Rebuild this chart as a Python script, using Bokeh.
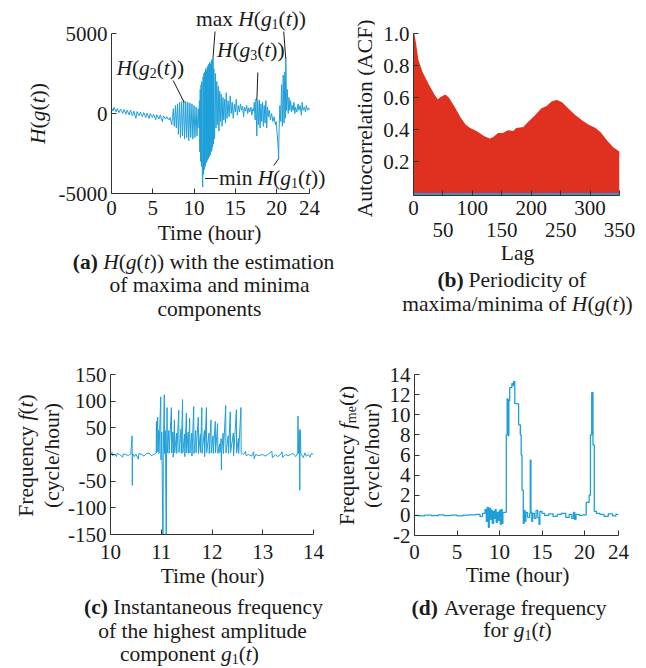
import math
from bokeh.plotting import figure
from bokeh.models import Label, FixedTicker, LinearAxis, Range1d, Arrow
from bokeh.layouts import column, row
from bokeh.embed import file_html
from bokeh.resources import INLINE

FONT = "Liberation Serif"
TXT = "#1a1a1a"
AXC = "#333333"
BLUE = "#1e9fd9"
RED = "#e03020"
BASE_BLUE = "#3d8fc6"
FS = 21.5

# ---------------- data ----------------
# (a) H(g(t)) over 24 hours
a_time = [0.0, 0.2, 0.3, 0.55, 0.7, 0.9, 1.1, 1.35, 1.5, 1.75,
          1.9, 2.15, 2.3, 2.55, 2.7, 2.95, 3.1, 3.35, 3.5, 3.75,
          3.9, 4.15, 4.3, 4.55, 4.7, 4.95, 5.1, 5.35, 5.5, 5.75,
          5.9, 6.15, 6.3, 6.55, 6.7, 6.95, 7.1, 7.3, 7.4,
          7.5, 7.6, 7.75, 7.85, 8.0, 8.1, 8.25, 8.35, 8.5, 8.6,
          8.75, 8.85, 9.0, 9.1, 9.25, 9.35, 9.5, 9.6, 9.75, 9.85,
          10.0, 10.1, 10.25, 10.35, 10.5, 10.6,
          10.65, 10.7, 10.75, 10.8, 10.85, 10.9, 10.95, 11.0, 11.05, 11.1,
          11.15, 11.2, 11.25, 11.3, 11.35, 11.4, 11.45, 11.5, 11.55, 11.6,
          11.65, 11.7, 11.75, 11.8, 11.85, 11.9, 11.95, 12.0, 12.05, 12.1,
          12.15, 12.2, 12.25, 12.3, 12.35, 12.4, 12.45,
          12.5, 12.58, 12.66, 12.75, 12.84, 12.93, 13.02, 13.11, 13.2, 13.3,
          13.4, 13.5, 13.6, 13.7, 13.8, 13.9, 14.0, 14.12, 14.25, 14.38,
          14.5, 14.62, 14.75, 14.88, 15.0, 15.12, 15.25, 15.38, 15.5, 15.62,
          15.75, 15.88, 16.0, 16.12, 16.25, 16.38, 16.5, 16.62, 16.75, 16.88,
          17.0, 17.12, 17.22,
          17.3, 17.4, 17.5, 17.6, 17.7, 17.8, 17.9, 18.0, 18.1, 18.2,
          18.3, 18.4, 18.5, 18.6, 18.7, 18.8, 18.9,
          19.0, 19.1, 19.25, 19.4, 19.55, 19.7, 19.85, 19.95, 20.05, 20.15,
          20.25, 20.3,
          20.4, 20.5, 20.6, 20.7, 20.8, 20.9, 21.0, 21.05, 21.12, 21.2,
          21.3, 21.4, 21.5,
          21.6, 21.7, 21.8, 21.9, 22.0, 22.1, 22.2, 22.3, 22.45, 22.6,
          22.7, 22.85, 23.0, 23.1, 23.2, 23.35, 23.5, 23.6, 23.75, 23.9,
          24.0]
a_value = [350, 150, 380, 100, 300, 50, 280, 0, 250, -50,
           220, -100, 200, -150, 150, -300, 120, -150, 80, -200,
           60, -250, 20, -300, 0, -250, -50, -400, -80, -350,
           -100, -500, -150, -350, -200, -400, -250, -700, -200,
           300, -800, 500, -900, 600, -1300, 700, -1500, 750, -1400,
           800, -1600, 750, -1500, 700, -1700, 650, -1500, 600, -1600,
           500, -1500, 400, -1400, 300, -900,
           800, -2400, 1500, -3000, 1800, -3300, 2000, -3900, -4600, 2300,
           -3800, 2500, -3500, 2600, -3300, 2800, -3100, 2700, -3000, 2900,
           -2900, 3000, -2800, 3100, -2700, 3200, -2600, 3100, -2400, 3300,
           -2300, 3400, -2100, 3500, -1900, 2800, -1600,
           -1500, 2500, -900, 2000, -700, 1700, -1100, 1400, -500, 1200,
           -800, 1000, -400, 900, -600, 1300, -300, 800, -200, 1100,
           0, 700, -300, 600, 100, 900, -100, 500, 100, 600,
           200, 450, -200, 400, 150, 500, 0, 350, 100, 400,
           -100, 300, 150,
           700, -400, 900, -1400, 800, -700, 850, -900, 600, -500,
           700, -800, 500, -600, 800, -900, 400,
           -200, 200, -400, 0, -500, -200, -700, -500, -1200, -1800,
           -2800, -1000,
           500, -500, 1800, -800, 2400, -600, 2600, -300, 3500, 200,
           1500, 0, 1000,
           200, 800, 100, 500, 200, 700, 0, 400, 100, 600,
           200, 500, -100, 700, 200, 400, 100, 500, 200, 350,
           250]
a_xticks = [0, 5, 10, 15, 20, 24]
a_xlabels = ["0", "5", "10", "15", "20", "24"]
a_yticks = [-5000, 0, 5000]
a_ylabels = ["-5000", "0", "5000"]

# (b) autocorrelation of maxima/minima
b_lag = [0, 3, 7, 14, 25, 34, 41, 46, 54, 59,
         68, 79, 88, 96, 107, 119, 130, 136, 144, 153,
         161, 170, 175, 187, 195, 207, 218, 226, 235, 243,
         252, 263, 274, 286, 297, 308, 317, 328, 338, 350]
b_acf = [1.0, 0.94, 0.835, 0.76, 0.68, 0.62, 0.583, 0.598, 0.614, 0.598,
         0.546, 0.474, 0.427, 0.406, 0.386, 0.357, 0.340, 0.35, 0.375, 0.377,
         0.392, 0.388, 0.406, 0.412, 0.443, 0.485, 0.53, 0.542, 0.571, 0.581,
         0.567, 0.526, 0.489, 0.454, 0.427, 0.408, 0.381, 0.330, 0.289, 0.258]
b_baseline = [0.0, 0.0]
b_xticks = [0, 50, 100, 150, 200, 250, 300, 350]
b_xlabels_row1 = ["0", "", "100", "", "200", "", "300", ""]
b_xlabels_row2 = ["", "50", "", "150", "", "250", "", "350"]
b_yticks = [0.2, 0.4, 0.6, 0.8, 1.0]
b_ylabels = ["0.2", "0.4", "0.6", "0.8", "1.0"]

# (c) instantaneous frequency of g1(t)
c_time = [10.00, 10.03, 10.04, 10.08, 10.12, 10.13, 10.18, 10.24, 10.25, 10.30,
          10.35, 10.40, 10.425, 10.43, 10.435, 10.47, 10.50, 10.55, 10.56, 10.62,
          10.66, 10.70, 10.76, 10.80, 10.86, 10.90, 10.905, 10.91, 10.93, 10.935,
          10.95, 10.955, 10.99, 10.995, 11.01, 11.015, 11.036, 11.04, 11.06, 11.065,
          11.08, 11.085, 11.10, 11.105, 11.115, 11.12, 11.15, 11.155, 11.20, 11.205,
          11.23, 11.235, 11.26, 11.265, 11.30, 11.305, 11.345, 11.35, 11.39, 11.395,
          11.42, 11.425, 11.46, 11.465, 11.495, 11.50, 11.53, 11.535, 11.56, 11.565,
          11.60, 11.605, 11.64, 11.645, 11.68, 11.685, 11.73, 11.735, 11.77, 11.775,
          11.80, 11.805, 11.85, 11.855, 11.89, 11.895, 11.94, 11.945, 11.98, 11.985,
          12.02, 12.025, 12.065, 12.07, 12.11, 12.115, 12.15, 12.155, 12.18, 12.185,
          12.19, 12.22, 12.225, 12.27, 12.275, 12.32, 12.325, 12.36, 12.365, 12.42,
          12.425, 12.48, 12.485, 12.52, 12.525, 12.57, 12.575, 12.62, 12.66, 12.67,
          12.72, 12.78, 12.82, 12.83, 12.86, 12.92, 13.00, 13.05, 13.10, 13.18,
          13.19, 13.25, 13.30, 13.35, 13.38, 13.39, 13.45, 13.50, 13.55, 13.60,
          13.65, 13.69, 13.695, 13.70, 13.72, 13.73, 13.735, 13.745, 13.75, 13.80,
          13.83, 13.86, 13.90, 13.93, 13.96, 14.00]
c_freq = [0, 4, -2, 0, -4, 2, 0, -5, 1, 0,
          -2, 1, 35, -58, 2, -4, 1, -9, 2, 0,
          -3, 1, 3, -2, 0, 3, 62, 3, 70, 5,
          45, 2, 108, -10, 42, 3, -200, 5, 112, 2,
          45, -8, -200, 4, 88, 3, 45, 2, 88, 3,
          42, -5, 65, 3, 40, 2, 83, 4, 48, 2,
          103, 3, 38, -4, 78, 3, 42, 2, 68, 3,
          40, -3, 90, 2, 45, 3, 70, 2, 38, 4,
          88, 2, 45, -4, 88, 3, 40, 2, 65, 3,
          35, 2, 62, 3, 58, 2, 20, 3, 30, -29,
          3, 40, 2, 92, 3, 35, 2, 80, 3, 40,
          -3, 84, 3, 30, 2, 88, 3, 0, 6, -2,
          0, -3, 5, -8, 0, -2, 0, -3, 0, 6,
          -6, 0, -4, 0, 5, -5, 0, -2, 0, 2,
          -4, 3, 72, 2, 45, -67, 47, 35, 2, -6,
          3, -3, 0, -5, 2, 0]
c_xticks = [10, 11, 12, 13, 14]
c_xlabels = ["10", "11", "12", "13", "14"]
c_yticks = [-150, -100, -50, 0, 50, 100, 150]
c_ylabels = ["-150", "-100", "-50", "0", "50", "100", "150"]

# (d) average frequency of g1(t)
d_time = [0.0, 0.5, 1.2, 2.0, 2.8, 3.5, 4.3, 5.0, 5.7, 6.5,
          7.2, 7.7, 8.0, 8.3, 8.45, 8.55, 8.7, 8.8, 8.95, 9.05,
          9.15, 9.3, 9.4, 9.5, 9.6, 9.75, 9.9, 10.0, 10.1, 10.2,
          10.3, 10.4, 10.8, 10.9, 10.95, 11.0, 11.05, 11.1, 11.2, 11.45,
          11.6, 11.65, 11.8, 12.25, 12.45, 12.55, 12.65, 12.8, 12.9, 13.0,
          13.1, 13.3, 13.55, 13.62, 13.7, 13.8, 13.9, 14.1, 14.3, 14.5,
          14.65, 14.75, 15.0, 15.3, 15.8, 16.3, 16.8, 17.3, 17.8, 18.2,
          18.5, 18.7, 18.85, 19.0, 19.4, 19.8, 20.2, 20.55, 20.7, 20.85,
          21.0, 21.15, 21.4, 21.8, 22.3, 22.8, 23.3, 23.7, 24.0]
d_freq = [0.0, -0.05, 0.02, -0.03, 0.05, -0.02, 0.03, -0.05, 0.02, 0.05,
          0.1, -0.1, 0.2, 0.6, -0.6, 0.8, -1.2, 0.7, -0.4, 0.5,
          -0.8, 0.4, -0.3, 0.6, -0.7, 0.3, -0.5, 0.5, -0.9, 0.6,
          -0.8, 0.3, 8.0, 11.6, 8.1, 11.5, 7.9, 11.4, 12.7, 13.1,
          12.9, 13.3, 11.1, 9.0, 8.0, 6.0, 2.5, -0.8, 0.5, -0.6,
          0.3, -0.2, 0.2, 5.5, 0.3, -0.6, 0.2, -0.3, 0.5, -0.2,
          -0.9, 0.4, 0.2, 0.0, 0.15, -0.1, 0.1, 0.2, -0.2, 0.1,
          -0.3, 0.3, -0.4, 0.1, 0.0, 0.05, 1.3, 2.0, 8.0, 12.2,
          7.0, 0.4, 0.2, 0.1, -0.1, 0.15, -0.05, 0.1, 0.05]
d_xticks = [0, 5, 10, 15, 20, 24]
d_xlabels = ["0", "5", "10", "15", "20", "24"]
d_yticks = [-2, 0, 2, 4, 6, 8, 10, 12, 14]
d_ylabels = ["-2", "0", "2", "4", "6", "8", "10", "12", "14"]

assert len(a_time) == len(a_value)
assert len(b_lag) == len(b_acf)
assert len(c_time) == len(c_freq)
assert len(d_time) == len(d_freq)

# ---------------- text metrics (Times-compatible) ----------------
REG = {ch: 0.5 for ch in "0123456789"}
REG.update({' ': .25, '(': .333, ')': .333, '-': .333, '.': .25, '/': .278,
            'A': .722, 'C': .667, 'F': .556, 'H': .722, 'I': .333, 'L': .611, 'T': .611,
            'a': .444, 'b': .5, 'c': .444, 'd': .5, 'e': .444, 'f': .333, 'g': .5,
            'h': .5, 'i': .278, 'j': .278, 'k': .5, 'l': .278, 'm': .778, 'n': .5,
            'o': .5, 'p': .5, 'q': .5, 'r': .333, 's': .389, 't': .278, 'u': .5,
            'v': .5, 'w': .722, 'x': .5, 'y': .5, 'z': .444})
ITA = dict(REG)
ITA.update({'f': .278, 'm': .722})
BOLD = dict(REG)
BOLD.update({'a': .5, 'b': .556, 'd': .556})
MID = 0.34  # distance from the middle of a line of text down to its baseline, in em


def tw(s, style):
    tab = ITA if style == "italic" else BOLD if style == "bold" else REG
    return sum(tab.get(ch, .5) for ch in s)


def R(s):
    return (s, "normal", 1.0, 0.0)


def I(s):
    return (s, "italic", 1.0, 0.0)


def B(s):
    return (s, "bold", 1.0, 0.0)


def SUB(s):
    return (s, "normal", 0.65, 0.12)


HG = [I("H"), R("("), I("g"), R("("), I("t"), R("))")]


def hgsub(n):
    return [I("H"), R("("), I("g"), SUB(n), R("("), I("t"), R("))")]


class Panel:
    """A figure placed at (ox, oy) of the page; frame given in its own pixels."""

    def __init__(self, w, h, ox, oy, L=None, T=0, Rr=None, Bb=None, xr=None, yr=None):
        L = 0 if L is None else L
        Rr = w if Rr is None else Rr
        Bb = h if Bb is None else Bb
        xr = (0, w) if xr is None else xr
        yr = (0, h) if yr is None else yr
        self.ox, self.oy = ox, oy
        self.L, self.T, self.R, self.B = L, T, Rr, Bb
        self.xr, self.yr = xr, yr
        p = figure(width=w, height=h, x_range=Range1d(*xr), y_range=Range1d(*yr),
                   x_axis_type=None, y_axis_type=None, toolbar_location=None,
                   output_backend="svg", min_border_left=L, min_border_right=w - Rr,
                   min_border_top=T, min_border_bottom=h - Bb)
        try:
            p.frame_align = False
        except Exception:
            pass
        p.outline_line_color = None
        p.background_fill_color = "white"
        p.border_fill_color = "white"
        self.p = p

    def data(self, gx, gy):
        sx, sy = gx - self.ox, gy - self.oy
        x0, x1 = self.xr
        y0, y1 = self.yr
        return (x0 + (sx - self.L) / (self.R - self.L) * (x1 - x0),
                y1 - (sy - self.T) / (self.B - self.T) * (y1 - y0))

    def rich(self, segs, anchor, center, align="center", vertical=False, size=FS):
        """Lay out styled pieces of one line; anchor = start/centre along the line,
        center = page position of the line's middle across it."""
        widths = [tw(t, st) * size * sc for t, st, sc, sh in segs]
        total = sum(widths)
        acc = -total / 2 if align == "center" else 0.0
        for (t, st, sc, sh), w in zip(segs, widths):
            lead = len(t) - len(t.lstrip(" "))
            body = t.strip(" ")
            lead_w = tw(t[:lead], st) * size * sc
            body_w = tw(body, st) * size * sc
            mid = acc + lead_w + body_w / 2
            acc += w
            if not body:
                continue
            drop = sh * size + MID * size * (1 - sc)
            if vertical:
                gx, gy, ang = center + drop, anchor - mid, math.pi / 2
            else:
                gx, gy, ang = anchor + mid, center + drop, 0.0
            x, y = self.data(gx, gy)
            self.p.add_layout(Label(x=x, y=y, text=body, angle=ang, text_align="center",
                                    text_baseline="middle", text_font=FONT,
                                    text_font_size=f"{size * sc:.1f}px",
                                    text_font_style=st, text_color=TXT))

    def pointer(self, gx0, gy0, gx1, gy1):
        x0, y0 = self.data(gx0, gy0)
        x1, y1 = self.data(gx1, gy1)
        self.p.add_layout(Arrow(end=None, x_start=x0, y_start=y0, x_end=x1, y_end=y1,
                                line_color=TXT, line_width=1))

    def axis(self, side, ticks, labels, standoff, **kw):
        ax = LinearAxis(ticker=FixedTicker(ticks=ticks),
                        major_label_overrides=dict(zip(ticks, labels)))
        ax.axis_line_color = AXC
        ax.axis_line_width = 1
        ax.major_tick_line_color = AXC
        ax.major_tick_in = 5
        ax.major_tick_out = 0
        ax.minor_tick_line_color = None
        ax.major_label_text_font = FONT
        ax.major_label_text_font_size = "21px"
        ax.major_label_text_color = TXT
        ax.major_label_standoff = standoff
        for k, v in kw.items():
            setattr(ax, k, v)
        self.p.add_layout(ax, side)
        return ax


def ext(v0, p0, v1, p1, q):
    """value at pixel q of a linear pixel->value map through (p0, v0), (p1, v1)"""
    return v0 + (q - p0) * (v1 - v0) / (p1 - p0)


# ---------------- (a) ----------------
a_ylab = Panel(55, 218, 0, 0)
a_xr = (ext(0, 110, 24, 309, 110), ext(0, 110, 24, 309, 336))
a_yr = (ext(5000, 33, -5000, 193, 193), ext(5000, 33, -5000, 193, 0))
pa = Panel(281, 218, 55, 0, L=55, T=0, Rr=281, Bb=193, xr=a_xr, yr=a_yr)
a_cap = Panel(336, 122, 0, 218)

pa.p.line(a_time, a_value, line_color=BLUE, line_width=1)
pa.axis("below", a_xticks, a_xlabels, 7, bounds=(a_xticks[0], a_xticks[-1]))
pa.axis("left", a_yticks, a_ylabels, 4, bounds=(a_yticks[0], a_yticks[-1]))
a_ylab.rich(HG, 113, 37, vertical=True)
pa.rich(hgsub("2"), 115, 67, align="left")
pa.rich([R("max ")] + hgsub("1"), 195, 18, align="left")
pa.rich(hgsub("3"), 216, 49, align="left")
pa.rich([R("min ")] + hgsub("1"), 218, 177, align="left")
pa.pointer(172, 80, 183, 102)
pa.pointer(214, 31, 212, 57)
pa.pointer(283, 31, 285, 58)
pa.pointer(257, 72, 256, 100)
pa.pointer(204, 178, 217, 178)
pa.pointer(273, 165, 278, 158)

a_cap.rich([R("Time (hour)")], 209, 232.5)
a_cap.rich([B("(a)"), I(" H"), R("("), I("g"), R("("), I("t"), R("))"),
            R(" with the estimation")], 203, 261)
a_cap.rich([R("of maxima and minima")], 209, 284)
a_cap.rich([R("components")], 209, 308)

# ---------------- (b) ----------------
b_ylab = Panel(39, 242, 336, 0)
pb = Panel(271, 242, 375, 0, L=38, T=33, Rr=244, Bb=195, xr=(0, 350), yr=(-0.01, 1.0))
b_cap = Panel(310, 98, 336, 242)

pb.p.varea(x=b_lag, y1=0, y2=b_acf, fill_color=RED)
pb.p.line(b_lag, b_acf, line_color=RED, line_width=1.5)
pb.p.line([b_lag[0], b_lag[-1]], b_baseline, line_color=BASE_BLUE, line_width=2)
pb.axis("below", b_xticks, b_xlabels_row1, 5)
pb.axis("below", b_xticks, b_xlabels_row2, 5, axis_line_color=None,
        major_tick_line_color=None)
pb.axis("left", b_yticks, b_ylabels, 4)
b_ylab.rich([R("Autocorrelation (ACF)")], 118, 364, vertical=True)

b_cap.rich([R("Lag")], 517, 252)
b_cap.rich([B("(b)"), R(" Periodicity of")], 511, 279)
b_cap.rich([R("maxima/minima of")] + [I(" H"), R("("), I("g"), R("("), I("t"), R("))")],
           517, 303)

# ---------------- (c) ----------------
c_ylab = Panel(64, 224, 0, 340)
pc = Panel(266, 224, 64, 340, L=46, T=34, Rr=249, Bb=194, xr=(10, 14), yr=(-150, 150))
pc.p.line(c_time, c_freq, line_color=BLUE, line_width=1)
pc.axis("below", c_xticks, c_xlabels, 10)
pc.axis("left", c_yticks, c_ylabels, 4)
c_ylab.rich([R("Frequency"), I(" f"), R("("), I("t"), R(")")], 455, 25, vertical=True)
c_ylab.rich([R("(cycle/hour)")], 455, 51, vertical=True)

# ---------------- (d) ----------------
d_ylab = Panel(52, 224, 330, 340)
pd = Panel(264, 224, 382, 340, L=32, T=34, Rr=236, Bb=195, xr=(0, 24), yr=(-2, 14))
pd.p.step(d_time, d_freq, mode="after", line_color=BLUE, line_width=1.3)
pd.axis("below", d_xticks, d_xlabels, 9)
pd.axis("left", d_yticks, d_ylabels, 4)
d_ylab.rich([R("Frequency"), I(" f"), SUB("me"), R("("), I("t"), R(")")], 455, 346,
            vertical=True)
d_ylab.rich([R("(cycle/hour)")], 455, 371, vertical=True)

# ---------------- captions of the bottom row ----------------
bot_cap = Panel(646, 104, 0, 564)
bot_cap.rich([R("Time (hour)")], 212, 575)
bot_cap.rich([B("(c)"), R(" Instantaneous frequency")], 203, 606)
bot_cap.rich([R("of the highest amplitude")], 202, 630)
bot_cap.rich([R("component"), I(" g"), SUB("1"), R("("), I("t"), R(")")], 189, 653)
bot_cap.rich([R("Time (hour)")], 517, 574)
bot_cap.rich([B("(d)"), R(" Average frequency")], 509, 607)
bot_cap.rich([R("for"), I(" g"), SUB("1"), R("("), I("t"), R(")")], 517, 629)

top = row(column(row(a_ylab.p, pa.p), a_cap.p), column(row(b_ylab.p, pb.p), b_cap.p))
bottom = column(row(c_ylab.p, pc.p, d_ylab.p, pd.p), bot_cap.p)
layout = column(top, bottom)
open("out.html", "w").write(file_html(layout, INLINE))
